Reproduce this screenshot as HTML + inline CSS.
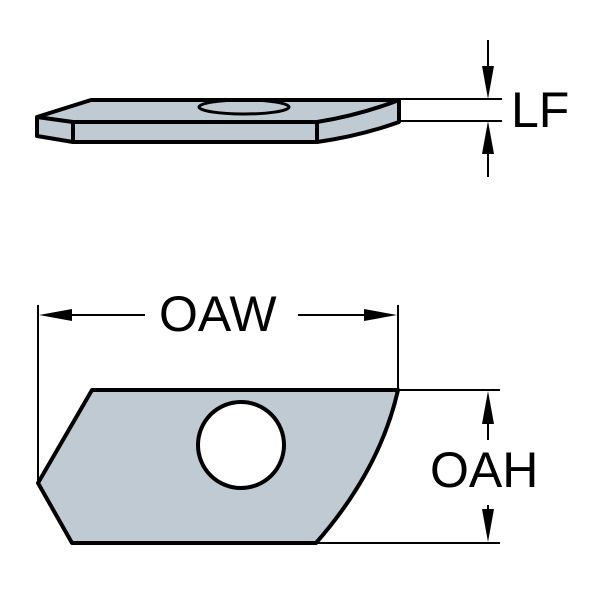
<!DOCTYPE html>
<html><head><style>body{margin:0;background:#fff}svg{display:block}</style></head>
<body>
<svg width="600" height="600" viewBox="0 0 600 600" xmlns="http://www.w3.org/2000/svg">
<g stroke="#000" stroke-width="4" stroke-linejoin="round" fill="#bfcad3">
<path d="M37,117 L91,100 L399,100 L399,122 Q360,136 317,142 L73,142 L37,136 Z"/>
<path d="M37,117 L73,122 L317,122 M73,122 L73,142 M317,122 L317,142 M399,100 Q360,115 317,122" fill="none"/>
<ellipse cx="244" cy="107" rx="45" ry="7" fill="none" stroke-width="3"/>
<path d="M92,390 L398,390 Q380,470 316,543 L72,543 L38,483 Z"/>
<circle cx="241" cy="445" r="43" fill="#fff"/>
</g>
<g stroke="#000" stroke-width="2" fill="none">
<line x1="399" y1="99" x2="502" y2="99"/><line x1="399" y1="121" x2="502" y2="121"/>
<line x1="488" y1="40" x2="488" y2="85"/><line x1="488" y1="135" x2="488" y2="177"/>
<line x1="38" y1="305" x2="38" y2="483"/><line x1="398" y1="305" x2="398" y2="390"/>
<line x1="50" y1="315" x2="145" y2="315"/><line x1="298" y1="315" x2="386" y2="315"/>
<line x1="398" y1="390" x2="500" y2="390"/><line x1="316" y1="543" x2="500" y2="543"/>
<line x1="488" y1="402" x2="488" y2="440"/><line x1="488" y1="505" x2="488" y2="531"/>
</g>
<g fill="#000">
<path d="M482,66 L494,66 L488,99 Z"/><path d="M482,154 L494,154 L488,121 Z"/>
<path d="M39,315 L72,309 L72,321 Z"/><path d="M397,315 L364,309 L364,321 Z"/>
<path d="M488,391 L482,424 L494,424 Z"/><path d="M488,542 L482,509 L494,509 Z"/>
</g>
<g font-family="Liberation Sans, sans-serif" font-size="50" fill="#000">
<text x="511" y="127">LF</text>
<text x="159" y="331">OAW</text>
<text x="430" y="487">OAH</text>
</g>
</svg>
</body></html>
